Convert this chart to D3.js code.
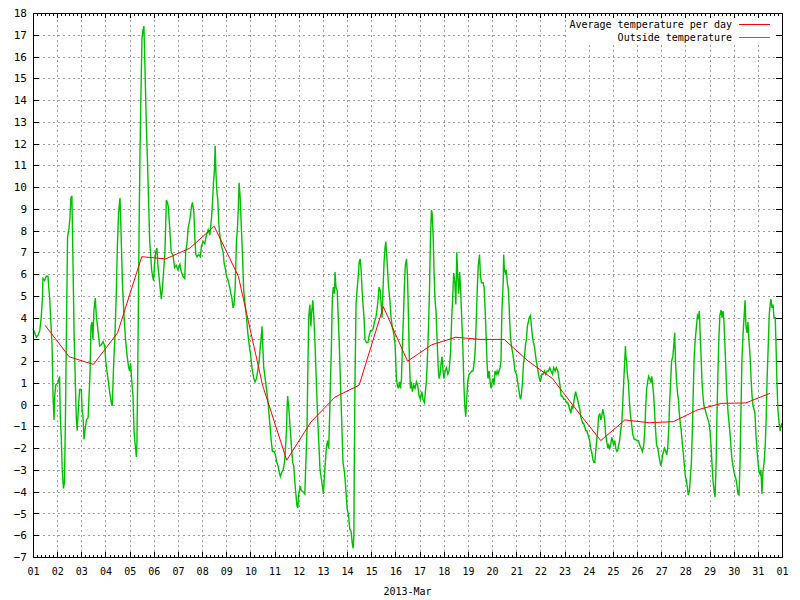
<!DOCTYPE html>
<html><head><meta charset="utf-8">
<script src="https://cdn.jsdelivr.net/npm/d3@7/dist/d3.min.js"></script>
<style>
body{margin:0;background:#fff;}
svg text{font-family:"DejaVu Sans Mono","Liberation Mono",monospace;fill:#000;}
</style></head><body>
<svg id="chart" width="800" height="600"></svg>
<script>
// ---- data ----
const dayTicks = [1,2,3,4,5,6,7,8,9,10,11,12,13,14,15,16,17,18,19,20,21,22,23,24,25,26,27,28,29,30,31,32];
const dayLabels = ["01","02","03","04","05","06","07","08","09","10","11","12","13","14","15","16","17","18","19","20","21","22","23","24","25","26","27","28","29","30","31","01"];
const tempTicks = [-7,-6,-5,-4,-3,-2,-1,0,1,2,3,4,5,6,7,8,9,10,11,12,13,14,15,16,17,18];
const axisTitle = "2013-Mar";
const seriesNames = ["Average temperature per day","Outside temperature"];

const avgDay = [1.5,2.5,3.5,4.5,5.5,6.5,7.5,8.5,9.5,10.5,11.5,12.5,13.5,14.5,15.5,16.5,17.5,18.5,19.5,20.5,21.5,22.5,23.5,24.5,25.5,26.5,27.5,28.5,29.5,30.5,31.5];
const avgTemp = [3.65,2.2,1.85,3.3,6.8,6.7,7.2,8.2,5.9,0.9,-2.55,-0.8,0.35,0.9,4.5,2.0,2.75,3.1,3.0,3.0,2.0,1.2,-0.25,-1.65,-0.7,-0.83,-0.78,-0.24,0.06,0.08,0.52];

const outsideDay = [
1.00,1.07,1.14,1.21,1.28,1.34,1.39,1.41,1.48,1.55,1.62,1.65,1.69,1.73,1.79,1.83,1.87,1.90,1.94,2.03,2.10,2.13,2.17,2.21,2.26,2.30,2.34,2.38,2.43,2.49,2.53,2.57,2.61,2.66,2.70,2.75,2.79,2.83,2.88,2.93,3.00,3.03,3.07,3.11,3.15,3.21,3.28,3.32,3.36,3.40,3.44,3.48,3.52,3.58,3.62,3.69,3.76,3.83,3.90,3.97,4.01,4.06,4.12,4.17,4.24,4.28,4.34,4.39,4.45,4.49,4.54,4.60,4.64,4.70,4.77,4.83,4.90,4.96,5.00,5.04,5.08,5.14,5.18,5.23,5.28,5.30,5.34,5.39,5.43,5.47,5.51,5.55,5.59,5.62,5.66,5.70,5.74,5.79,5.83,5.87,5.91,5.95,5.99,6.03,6.08,6.13,6.17,6.24,6.31,6.35,6.41,6.46,6.52,6.56,6.60,6.66,6.72,6.79,6.86,6.93,7.00,
7.08,7.14,7.21,7.28,7.32,7.38,7.42,7.49,7.56,7.60,7.66,7.70,7.74,7.79,7.86,7.93,7.97,8.04,8.11,8.18,8.25,8.32,8.39,8.43,8.47,8.51,8.54,8.57,8.61,8.65,8.69,8.73,8.80,8.87,8.91,8.97,9.01,9.08,9.14,9.19,9.23,9.28,9.32,9.37,9.42,9.46,9.50,9.53,9.57,9.61,9.67,9.72,9.78,9.83,9.89,9.94,10.00,10.04,10.08,10.14,10.19,10.25,10.30,10.36,10.41,10.46,10.48,10.51,10.55,10.61,10.66,10.70,10.74,10.80,10.86,10.91,10.98,11.03,11.09,11.14,11.19,11.24,11.30,11.35,11.41,11.45,11.49,11.52,11.54,11.59,11.63,11.67,11.71,11.75,11.79,11.83,11.88,11.92,11.96,12.00,12.06,12.11,12.18,12.25,12.29,12.34,12.37,12.41,12.46,12.50,12.54,12.58,12.62,12.66,12.70,12.75,12.79,12.84,12.88,12.94,12.98,13.02,13.06,13.10,13.14,13.19,13.24,
13.28,13.35,13.39,13.43,13.48,13.50,13.54,13.59,13.63,13.67,13.72,13.78,13.83,13.89,13.94,14.00,14.06,14.11,14.17,14.21,14.25,14.28,14.30,14.33,14.37,14.41,14.46,14.50,14.54,14.58,14.62,14.66,14.70,14.74,14.80,14.86,14.91,14.97,15.02,15.08,15.13,15.19,15.23,15.28,15.32,15.37,15.41,15.45,15.49,15.53,15.57,15.60,15.64,15.68,15.72,15.77,15.82,15.88,15.93,15.99,16.04,16.08,16.12,16.17,16.21,16.25,16.29,16.33,16.37,16.41,16.46,16.50,16.54,16.58,16.62,16.66,16.70,16.76,16.81,16.87,16.92,16.98,17.03,17.09,17.14,17.20,17.24,17.28,17.32,17.37,17.41,17.45,17.49,17.52,17.56,17.60,17.64,17.68,17.72,17.77,17.81,17.85,17.89,17.93,17.97,18.01,18.06,18.11,18.17,18.22,18.28,18.33,18.37,18.41,18.46,18.50,18.54,18.58,18.62,18.66,18.70,18.74,18.79,18.83,18.87,18.91,18.95,18.99,19.05,19.10,19.16,19.21,19.27,19.31,19.35,19.39,19.43,19.48,
19.52,19.56,19.63,19.67,19.71,19.75,19.79,19.83,19.88,19.92,19.96,20.00,20.04,20.08,20.12,20.17,20.21,20.25,20.29,20.33,20.37,20.40,20.43,20.46,20.48,20.51,20.55,20.59,20.63,20.68,20.72,20.76,20.80,20.86,20.90,20.95,21.01,21.06,21.12,21.17,21.21,21.26,21.30,21.34,21.38,21.42,21.46,21.50,21.54,21.59,21.63,21.67,21.71,21.75,21.79,21.83,21.88,21.92,21.96,22.00,22.06,22.11,22.17,22.22,22.28,22.33,22.39,22.44,22.50,22.55,22.61,22.66,22.72,22.77,22.81,22.86,22.91,22.97,23.02,23.08,23.13,23.17,23.21,23.26,23.30,23.34,23.38,23.42,23.46,23.50,23.54,23.59,23.63,23.67,23.71,23.75,23.79,23.83,23.88,23.92,23.96,24.00,24.04,24.08,24.12,24.17,24.21,24.25,24.29,24.33,24.37,24.41,24.46,24.50,24.54,24.58,24.62,24.66,24.70,24.74,24.79,24.83,24.87,24.91,24.95,24.99,25.03,25.08,25.12,25.16,25.20,25.24,25.28,25.32,25.37,25.41,25.45,25.49,25.52,25.54,25.57,25.60,25.64,25.68,25.72,25.77,
25.83,25.89,25.94,26.00,26.06,26.11,26.17,26.22,26.28,26.32,26.36,26.40,26.44,26.48,26.52,26.57,26.61,26.65,26.69,26.73,26.77,26.81,26.86,26.90,26.94,26.98,27.02,27.06,27.10,27.14,27.19,27.23,27.27,27.31,27.35,27.39,27.43,27.48,27.52,27.56,27.59,27.63,27.67,27.71,27.75,27.79,27.83,27.88,27.92,27.96,28.00,28.04,28.08,28.12,28.17,28.21,28.25,28.29,28.33,28.37,28.41,28.46,28.50,28.54,28.58,28.61,28.65,28.69,28.73,28.77,28.81,28.86,28.90,28.94,28.98,29.02,29.06,29.10,29.14,29.19,29.23,29.27,29.31,29.35,29.39,29.43,29.48,29.52,29.56,29.60,29.64,29.68,29.72,29.77,29.81,29.85,29.89,29.93,29.97,30.01,30.06,30.10,30.14,30.18,30.22,30.26,30.30,30.34,30.39,30.43,30.47,30.51,30.55,30.59,30.63,30.68,30.72,30.76,30.80,30.84,30.88,30.92,30.97,31.01,31.05,31.09,31.13,31.17,31.21,31.26,31.30,31.34,31.38,31.43,31.47,31.51,31.54,31.59,31.63,31.67,31.72,31.75,31.79,31.83,31.88,31.92,31.96,32.00];

const outsideTemp = [
3.5,3.3,3.1,3.2,3.4,4.0,4.9,5.8,5.7,5.9,5.9,5.4,4.9,4.0,2.7,0.4,-0.7,0.4,0.9,1.0,1.3,-0.55,-1.5,-3.0,-3.85,-3.6,-0.9,3.0,7.7,8.1,8.6,9.5,9.6,6.2,3.3,1.1,-0.55,-1.2,-0.1,0.7,0.7,-0.2,-0.55,-1.6,-1.2,-0.7,-0.6,0.4,1.4,3.6,3.8,3.0,4.3,4.9,4.1,3.4,2.7,2.75,2.9,2.7,2.0,1.55,1.05,0.6,0.1,-0.05,1.9,3.15,5.2,7.2,8.8,9.5,8.1,5.6,4.0,3.0,2.2,1.7,1.55,1.9,1.2,0.4,-1.2,-1.85,-2.4,-1.85,2.0,8.0,11.7,14.4,16.8,17.2,17.4,16.1,14.3,12.5,11.1,9.1,7.5,6.9,6.2,5.9,5.7,6.5,7.0,7.2,6.4,5.6,4.85,5.25,6.2,7.0,9.4,9.3,9.1,8.1,7.0,6.9,6.3,6.4,6.2,
6.45,6.1,5.9,5.8,7.0,7.5,8.1,8.5,9.1,9.3,8.8,7.6,6.9,6.8,6.9,6.8,7.3,7.5,7.4,7.8,8.05,7.8,8.6,9.3,10.2,10.8,11.9,10.7,9.8,9.4,8.3,7.8,7.3,7.0,6.5,6.2,5.9,5.7,5.4,5.1,4.9,4.45,4.6,5.4,7.5,8.1,9.1,10.2,9.6,8.5,6.9,5.25,4.6,4.1,3.3,2.8,2.35,1.9,1.55,1.2,1.05,1.2,1.55,2.0,2.7,3.3,3.6,2.7,1.7,1.2,0.75,0.4,-0.05,-0.85,-1.65,-2.15,-2.15,-2.3,-2.65,-2.8,-3.1,-3.3,-3.1,-3.0,-2.65,-2.0,-1.2,-0.05,0.4,-0.2,-0.85,-1.5,-2.15,-2.65,-2.8,-3.45,-4.1,-4.6,-4.75,-4.1,-3.75,-3.95,-4.0,-4.1,-2.8,-1.2,1.2,4.0,4.6,3.6,4.3,4.8,4.1,3.15,1.9,0.4,-0.85,-2.0,-3.0,-3.45,-3.75,-4.1,-3.3,-2.65,-2.0,-1.65,-2.0,
-0.4,2.7,4.9,5.4,5.1,6.1,5.4,5.25,4.1,3.0,1.2,-0.85,-2.65,-3.1,-3.75,-4.75,-5.1,-5.7,-5.85,-6.35,-6.6,-6.0,-2.5,1.4,4.6,5.25,5.9,6.55,6.7,6.2,5.25,4.6,4.0,3.0,2.85,2.85,3.15,3.4,3.4,3.5,3.8,4.0,4.3,4.8,5.4,5.25,4.6,4.0,5.4,6.55,7.2,7.5,6.9,6.05,5.4,4.8,4.0,3.5,3.3,2.7,1.2,0.9,0.75,1.05,0.75,1.2,2.7,4.0,5.4,6.4,6.7,5.9,4.0,2.0,0.75,1.05,0.6,0.9,0.75,1.05,0.9,0.4,0.25,0.6,0.25,0.1,0.6,1.05,2.0,3.6,5.25,7.65,8.95,8.8,7.8,6.05,4.8,4.3,3.15,1.7,1.2,1.4,1.9,2.2,1.55,1.2,1.55,1.7,1.4,1.55,2.35,4.0,4.9,6.05,5.6,4.6,7.0,5.9,5.1,6.1,5.25,4.1,2.7,1.05,-0.05,-0.55,0.25,1.05,1.4,1.45,1.55,1.55,2.0,2.7,4.0,5.4,6.4,6.9,
5.9,5.6,5.6,5.4,4.45,3.3,2.0,1.2,1.55,1.05,0.75,1.05,1.2,0.9,1.55,1.4,1.55,1.4,1.55,1.7,2.0,4.0,4.9,5.6,6.9,6.2,6.05,6.2,5.6,5.25,4.1,3.15,2.7,2.35,2.0,1.55,1.4,1.05,0.6,0.25,0.4,1.05,1.9,2.2,2.7,3.0,3.6,3.8,4.0,4.1,3.6,3.15,2.85,2.7,2.35,2.0,1.7,1.4,1.2,1.05,1.4,1.4,1.55,1.4,1.55,1.55,1.7,1.55,1.4,1.7,1.55,1.7,1.55,1.2,0.9,0.4,0.4,0.25,0.25,0.1,0.1,-0.05,-0.2,-0.4,-0.05,-0.2,0.1,0.4,0.6,0.4,0.25,-0.05,-0.2,-0.55,-0.7,-0.85,-0.85,-1.0,-1.2,-1.2,-1.35,-1.5,-1.65,-2.0,-2.15,-2.5,-2.65,-2.65,-2.15,-1.65,-1.2,-0.55,-0.4,-0.7,-0.55,-0.2,-0.4,-0.7,-1.35,-1.65,-2.0,-1.85,-2.0,-1.85,-1.5,-1.65,-1.85,-1.65,-2.0,-2.15,-2.1,-1.85,-1.65,-1.2,-0.85,0.1,1.05,2.0,2.7,2.2,2.0,1.4,1.05,0.25,-0.4,-0.85,
-1.4,-1.6,-1.6,-1.65,-1.65,-1.85,-2.0,-2.15,-1.85,-1.2,-0.05,0.75,1.05,1.3,1.2,1.05,1.3,0.9,0.4,-0.4,-1.2,-1.85,-2.0,-2.3,-2.55,-2.8,-2.65,-2.3,-2.15,-2.0,-2.15,-2.3,-2.0,-1.2,0.1,1.05,2.0,2.2,2.7,3.3,2.0,1.2,0.6,0.25,-0.4,-0.85,-1.2,-1.85,-2.3,-2.8,-3.3,-3.45,-3.75,-4.15,-3.95,-3.3,-2.65,-1.2,0.75,2.35,3.0,3.6,4.1,4.0,4.3,3.3,2.2,1.05,0.4,-0.05,-0.2,-0.4,-0.55,-0.7,-0.85,-1.2,-1.85,-2.65,-3.45,-3.95,-4.25,-2.8,-0.4,1.55,3.15,4.1,4.35,4.0,4.3,3.8,2.7,1.55,0.4,-0.4,-0.85,-1.35,-2.0,-2.5,-2.8,-3.1,-3.3,-3.45,-3.75,-4.1,-4.15,-2.8,-0.4,2.0,3.3,4.0,4.8,3.6,3.3,3.8,3.0,2.2,1.2,0.4,-0.05,-0.2,-0.4,-1.35,-2.15,-2.65,-3.1,-3.2,-3.0,-4.1,-3.1,-2.65,-2.0,-0.85,1.05,2.7,4.1,4.6,4.85,4.45,4.6,4.0,4.0,2.85,1.05,-0.2,-0.85,-1.2,-1.0,-0.85];

// ---- layout ----
const W = 800, H = 600;
const L = 33, R = 782, T = 13, B = 557;
const svg = d3.select("#chart");
svg.append("rect").attr("width", W).attr("height", H).attr("fill", "#fff");

const x = d3.scaleLinear().domain([dayTicks[0], dayTicks[dayTicks.length - 1]]).range([L, R]);
const y = d3.scaleLinear().domain([tempTicks[0], tempTicks[tempTicks.length - 1]]).range([B, T]);

const minorTicks = [];
for (let i = 0; i < dayTicks.length - 1; i++) {
  for (let k = 1; k < 6; k++) minorTicks.push(dayTicks[i] + k / 6);
}

function styleAxis(g) {
  g.attr("font-family", null).attr("font-size", null);
  g.select(".domain").remove();
  g.selectAll("line").attr("shape-rendering", "crispEdges").attr("stroke", "#000");
  g.selectAll("text").style("font-size", "10px");
}

// grid
const gx = svg.append("g").attr("transform", `translate(0,${B})`)
  .call(d3.axisBottom(x).tickValues(dayTicks.slice(1, -1)).tickSize(-(B - T)).tickFormat(""));
gx.select(".domain").remove();
gx.selectAll("line").attr("stroke", "#a0a0a0").attr("stroke-dasharray", "2,3").attr("shape-rendering", "crispEdges");
const gy = svg.append("g").attr("transform", `translate(${L},0)`)
  .call(d3.axisLeft(y).tickValues(tempTicks.slice(1, -1)).tickSize(-(R - L)).tickFormat(""));
gy.select(".domain").remove();
gy.selectAll("line").attr("stroke", "#a0a0a0").attr("stroke-dasharray", "2,3").attr("shape-rendering", "crispEdges");

// legend background (clears grid under key)
svg.append("rect").attr("x", 567).attr("y", T + 1).attr("width", R - 567 - 1).attr("height", 30).attr("fill", "#fff");

// ticks
svg.append("g").attr("transform", `translate(0,${B})`)
  .call(d3.axisBottom(x).tickValues(dayTicks).tickSizeInner(-5).tickSizeOuter(0).tickPadding(11)
    .tickFormat((d, i) => dayLabels[i])).call(styleAxis);
svg.append("g").attr("transform", `translate(0,${B})`)
  .call(d3.axisBottom(x).tickValues(minorTicks).tickSizeInner(-2.5).tickSizeOuter(0).tickFormat("")).call(styleAxis);
svg.append("g").attr("transform", `translate(0,${T})`)
  .call(d3.axisTop(x).tickValues(dayTicks).tickSizeInner(-5).tickSizeOuter(0).tickFormat("")).call(styleAxis);
svg.append("g").attr("transform", `translate(0,${T})`)
  .call(d3.axisTop(x).tickValues(minorTicks).tickSizeInner(-2.5).tickSizeOuter(0).tickFormat("")).call(styleAxis);
svg.append("g").attr("transform", `translate(${L},0)`)
  .call(d3.axisLeft(y).tickValues(tempTicks).tickSizeInner(-6).tickSizeOuter(0).tickPadding(6)).call(styleAxis)
  .selectAll("text").style("font-size", "11px");
svg.append("g").attr("transform", `translate(${R},0)`)
  .call(d3.axisRight(y).tickValues(tempTicks).tickSizeInner(-6).tickSizeOuter(0).tickFormat("")).call(styleAxis);

// series
const outside = outsideDay.map((d, i) => [d, outsideTemp[i]]);
const avg = avgDay.map((d, i) => [d, avgTemp[i]]);
const line = d3.line().x(d => x(d[0])).y(d => y(d[1]));
svg.append("path").datum(outside).attr("d", line).attr("fill", "none").attr("stroke", "#00c000").attr("stroke-width", 1.4);
svg.append("path").datum(avg).attr("d", line).attr("fill", "none").attr("stroke", "#ff0000").attr("stroke-width", 1);

// border
svg.append("rect").attr("x", L).attr("y", T).attr("width", R - L).attr("height", B - T)
  .attr("fill", "none").attr("stroke", "#000").attr("shape-rendering", "crispEdges");

// legend
const legendColors = ["#ff0000", "#00c000"];
seriesNames.forEach((name, i) => {
  const yy = 24 + i * 13;
  svg.append("text").attr("x", 732).attr("y", yy + 3.5).attr("text-anchor", "end")
    .style("font-size", "10px").text(name);
  svg.append("line").attr("x1", 739).attr("x2", 770).attr("y1", yy).attr("y2", yy)
    .attr("stroke", legendColors[i]).attr("shape-rendering", "crispEdges");
});

// axis title
svg.append("text").attr("x", (L + R) / 2).attr("y", 595).attr("text-anchor", "middle")
  .style("font-size", "10px").text(axisTitle);
</script>
</body></html>
